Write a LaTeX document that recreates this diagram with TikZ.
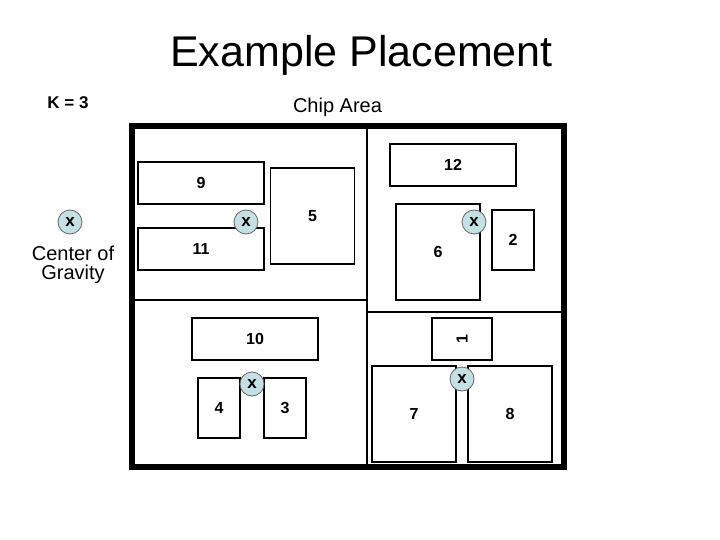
\documentclass[tikz,border=0pt]{standalone}
\usepackage{fontspec}
\setmainfont{Liberation Sans}
\usetikzlibrary{positioning}

\definecolor{cogblue}{RGB}{196,224,228}

\begin{document}
\begin{tikzpicture}[
    x=1pt, y=-1pt,
    cell/.style={rectangle, draw, line width=1.2pt, inner sep=0pt, fill=white,
                 font=\fontsize{16}{19}\selectfont\bfseries},
    tall/.style={cell, minimum width=84pt, minimum height=96pt},
    wide/.style={cell, minimum width=126pt, minimum height=42pt},
    slim/.style={cell, minimum width=42pt, minimum height=60pt},
    cog/.style={circle, draw=black!60, line width=0.8pt, fill=cogblue,
                minimum size=24pt, inner sep=0pt,
                font=\fontsize{17}{19}\selectfont\bfseries},
    divider/.style={line width=1.5pt}
]
  \useasboundingbox (0,0) rectangle (720,540);

  % headings
  \node[anchor=base, font=\fontsize{43}{50}\selectfont] (title) at (361.5,67) {Example Placement};
  \node[anchor=base, font=\fontsize{17}{20}\selectfont\bfseries] (k) at (68,109) {K = 3};
  \node[anchor=base, font=\fontsize{20}{23}\selectfont] (area) at (337.5,112.5) {Chip Area};

  % legend
  \node[cog] (legend) at (70,222) {x};
  \node[align=center, inner sep=0pt, font=\fontsize{20}{19}\selectfont] (cogtext) at (73,264.5) {Center of\\Gravity};

  % chip partitions
  \draw[divider] (367,126) -- (367,467);
  \draw[divider] (132,300) -- (367,300);
  \draw[divider] (367,312) -- (564,312);

  % cells
  \node[wide] (b9)  at (201,183) {9};
  \node[wide] (b11) at (201,249) {11};
  \node[tall] (b5)  at (312.5,216) {5};
  \node[wide] (b12) at (453,165) {12};
  \node[tall] (b6)  at (438,252) {6};
  \node[slim] (b2)  at (513,240) {2};
  \node[wide] (b10) at (255,339) {10};
  \node[cell, minimum width=60pt, minimum height=42pt] (b1) at (462,339) {};
  \node[rotate=90, font=\fontsize{16}{19}\selectfont\bfseries] (l1) at (b1) {1};
  \node[slim] (b4)  at (219,408) {4};
  \node[slim] (b3)  at (285,408) {3};
  \node[tall] (b7)  at (414,414) {7};
  \node[tall] (b8)  at (510,414) {8};

  % centers of gravity
  \node[cog] (g1) at (246,222) {x};
  \node[cog] (g2) at (474,222) {x};
  \node[cog] (g3) at (252,384) {x};
  \node[cog] (g4) at (462,379) {x};

  % chip outline
  \draw[line width=6pt] (132,126) rectangle (564,467);
\end{tikzpicture}
\end{document}
